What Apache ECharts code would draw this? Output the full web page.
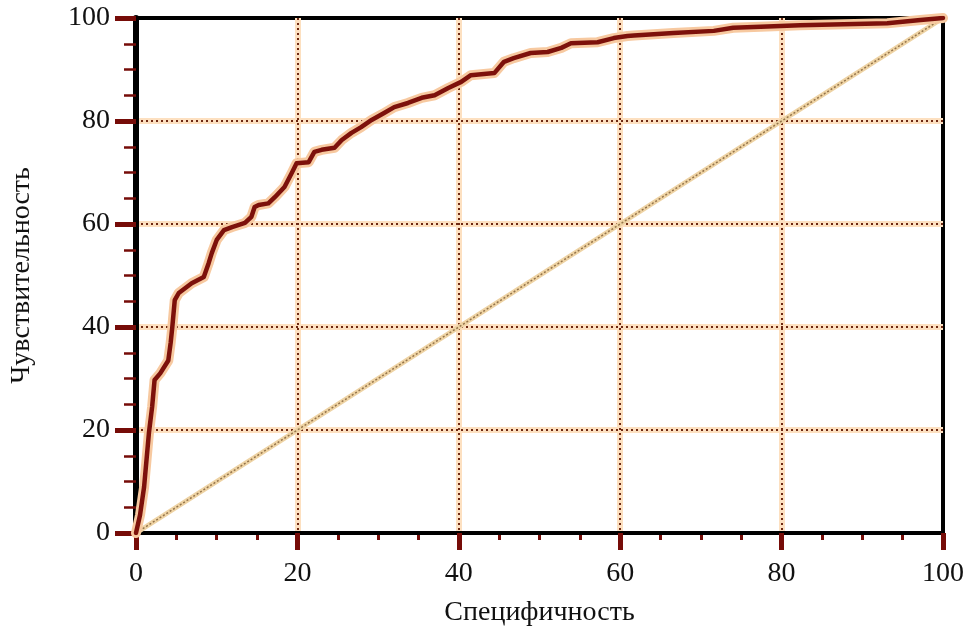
<!DOCTYPE html>
<html>
<head>
<meta charset="utf-8">
<script src="https://cdn.jsdelivr.net/npm/echarts@6/dist/echarts.min.js"></script>
<style>
html,body{margin:0;padding:0;background:#fff;}
#chart{width:977px;height:633px;}
</style>
</head>
<body>
<div id="chart"></div>
<script>
// ROC curve (1 - specificity on x, sensitivity on y)
const rocX = [0,0.5,1.0,1.6,2.0,2.3,3.0,4.0,4.3,4.5,4.8,5.3,6.9,8.4,9.0,9.4,10.0,10.9,11.9,13.5,14.3,14.7,15.2,16.4,17.2,18.4,19.3,19.9,21.4,22.1,23.0,24.6,25.5,26.7,27.9,29.2,30.8,32.0,33.7,35.4,37.0,38.7,40.3,41.5,44.4,45.6,46.8,48.9,51.0,52.7,53.9,57.2,59.2,60.9,61.7,66.6,71.6,74.0,77.4,82.3,93.1,97.2,100];
const rocY = [0,3.5,8.9,19.4,24.5,29.7,31,33.5,37,40,45.2,46.6,48.5,49.7,52.4,54.4,56.9,58.8,59.4,60.2,61.4,63.3,63.7,64,65.2,67.2,69.9,71.8,72,74,74.4,74.8,76.3,77.7,78.8,80.2,81.6,82.7,83.5,84.5,85,86.4,87.6,88.9,89.3,91.5,92.2,93.2,93.4,94.2,95.1,95.3,96.1,96.5,96.6,97.1,97.5,98.1,98.3,98.6,99.0,99.6,100];
// reference diagonal
const diagX = [0, 100];
const diagY = [0, 100];
// axes
const xTicks = [0, 20, 40, 60, 80, 100];
const yTicks = [0, 20, 40, 60, 80, 100];
const xName = 'Специфичность';
const yName = 'Чувствительность';

const roc = rocX.map((x, i) => [x, rocY[i]]);
const diag = diagX.map((x, i) => [x, diagY[i]]);

const serif = 'Liberation Serif, Times New Roman, serif';
const tickRed = '#760c08';
const gridDot = '#6e2812';

const chart = echarts.init(document.getElementById('chart'), null, {renderer: 'canvas'});
chart.setOption({
  backgroundColor: '#ffffff',
  animation: false,
  grid: {left: 134, right: 34, top: 18, bottom: 100, show: true, borderColor: '#000', borderWidth: 4, backgroundColor: '#fff'},
  xAxis: [{
    type: 'value', min: xTicks[0], max: xTicks[xTicks.length - 1], interval: 20, position: 'bottom', z: 1,
    axisLine: {show: true, onZero: false, lineStyle: {color: '#000', width: 4}},
    axisTick: {show: true, length: 17, lineStyle: {color: tickRed, width: 5}},
    minorTick: {show: false},
    axisLabel: {margin: 27, fontFamily: serif, fontSize: 28, color: '#111'},
    splitLine: {show: true, showMinLine: false, showMaxLine: false, lineStyle: {color: gridDot, width: 2, type: [2, 3]}},
    name: xName, nameLocation: 'middle', nameGap: 66,
    nameTextStyle: {fontFamily: serif, fontSize: 28, color: '#111'}
  }, {
    type: 'value', min: 0, max: 100, interval: 20, position: 'bottom', offset: 5, z: 0,
    axisLine: {show: false}, axisTick: {show: false}, axisLabel: {show: false},
    minorTick: {show: true, splitNumber: 4, length: 7, lineStyle: {color: tickRed, width: 3}},
    splitLine: {show: true, showMinLine: false, showMaxLine: false, lineStyle: {color: '#fde0c0', width: 6}}
  }],
  yAxis: [{
    type: 'value', min: yTicks[0], max: yTicks[yTicks.length - 1], interval: 20, position: 'left', z: 1,
    axisLine: {show: true, onZero: false, lineStyle: {color: '#000', width: 6}},
    axisTick: {show: true, length: 21, lineStyle: {color: tickRed, width: 5}},
    minorTick: {show: true, splitNumber: 4, length: 12, lineStyle: {color: tickRed, width: 2.5}},
    axisLabel: {margin: 26, fontFamily: serif, fontSize: 28, color: '#111'},
    splitLine: {show: true, showMinLine: false, showMaxLine: false, lineStyle: {color: gridDot, width: 2, type: [2, 3]}},
    name: yName, nameLocation: 'middle', nameGap: 100,
    nameTextStyle: {fontFamily: serif, fontSize: 28, color: '#111'}
  }, {
    type: 'value', min: 0, max: 100, interval: 20, position: 'left', z: 0,
    axisLine: {show: false}, axisTick: {show: false}, axisLabel: {show: false},
    splitLine: {show: true, showMinLine: false, showMaxLine: false, lineStyle: {color: '#fde0c0', width: 6}}
  }],
  series: [
    {type: 'line', data: diag, symbol: 'none', silent: true, z: 3,
     lineStyle: {color: '#eed3a4', width: 5}},
    {type: 'line', data: diag, symbol: 'none', silent: true, z: 4,
     lineStyle: {color: '#95744a', width: 1.5, type: [2, 2]}},
    {type: 'line', data: roc, symbol: 'none', silent: true, z: 5,
     lineStyle: {color: '#f7c9a0', width: 10, join: 'round', cap: 'round'}},
    {type: 'line', data: roc, symbol: 'none', silent: true, z: 6,
     lineStyle: {color: '#7d110b', width: 4.5, join: 'round', cap: 'round'}}
  ]
});
</script>
</body>
</html>
